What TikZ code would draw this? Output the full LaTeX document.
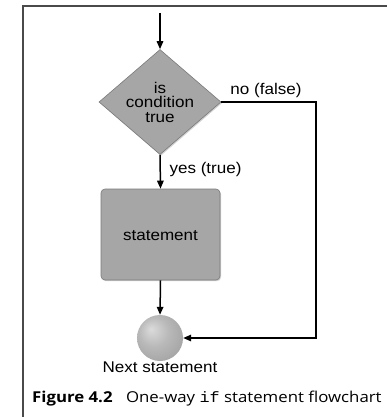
\documentclass[tikz,border=0pt]{standalone}
\usepackage{fontspec}
\setmainfont{Liberation Sans}
\newfontfamily\capfont{Open Sans}
\newfontfamily\capmono{Liberation Mono}
\usetikzlibrary{arrows.meta,shapes.geometric,shadows}
\definecolor{boxgray}{HTML}{A6A6A6}
\definecolor{boxedge}{HTML}{7A7A7A}
\definecolor{framegray}{HTML}{4A4A4A}
\newcommand{\widetxt}[1]{\scalebox{1.1}[1]{#1}}
\pgfdeclareradialshading{softball}{\pgfpoint{-10bp}{10bp}}{color(0bp)=(gray!28); color(16bp)=(gray!55); color(38bp)=(gray!78); color(50bp)=(gray!92)}
\begin{document}
\begin{tikzpicture}[x=1pt,y=1pt,
  flow/.style={line width=1.5pt,-{Triangle[length=8pt,width=6.5pt]}},
  shapebox/.style={fill=boxgray,draw=boxedge,line width=0.6pt,
    drop shadow={opacity=0.35,shadow xshift=1pt,shadow yshift=-1.2pt}},
  lbl/.style={font=\fontsize{15.5}{14.5}\selectfont,inner sep=0pt,align=center}]
\useasboundingbox (0,0) rectangle (387,-417);
\fill[white] (0,0) rectangle (387,-417);
% frame
\draw[framegray,line width=1.2pt] (23,-417) -- (23,-6) -- (387,-6);
% nodes
\coordinate (start) at (160,-13);
\node[diamond,shapebox,minimum width=122pt,minimum height=105pt,inner sep=0pt] (cond) at (160,-102) {};
\node[lbl] (condtxt) at (160,-102) {\widetxt{is}\\\widetxt{condition}\\\widetxt{true}};
\node[shapebox,rounded corners=4pt,minimum width=119pt,minimum height=91pt,inner sep=0pt] (stmt) at (160.5,-234.5) {};
\node[lbl] (stmttxt) at (160.5,-236) {\widetxt{statement}};
\node[circle,shading=softball,minimum size=46pt,inner sep=0pt] (next) at (160,-338) {};
\node[lbl] (nextlbl) at (160,-367) {\widetxt{Next statement}};
\node[lbl] (nolbl) at (266,-90) {\widetxt{no (false)}};
\node[lbl] (yeslbl) at (205.5,-169) {\widetxt{yes (true)}};
\coordinate (corner1) at (316,-102);
\coordinate (corner2) at (316,-338);
% connectors
\draw[flow] (start) -- (cond.north);
\draw[flow] (cond.south) -- (stmt.north);
\draw[flow] (stmt.south) -- (next.north);
\draw[flow] (cond.east) -- (corner1) -- (corner2) -- (next.east);
% caption
\node[inner sep=0pt,anchor=west,font=\capfont\fontsize{15}{16}\selectfont] (caption) at (32,-399)
  {\scalebox{1.12}[1]{\textbf{Figure 4.2}\hspace{12pt}One-way {\capmono if} statement flowchart}};
\end{tikzpicture}
\end{document}
